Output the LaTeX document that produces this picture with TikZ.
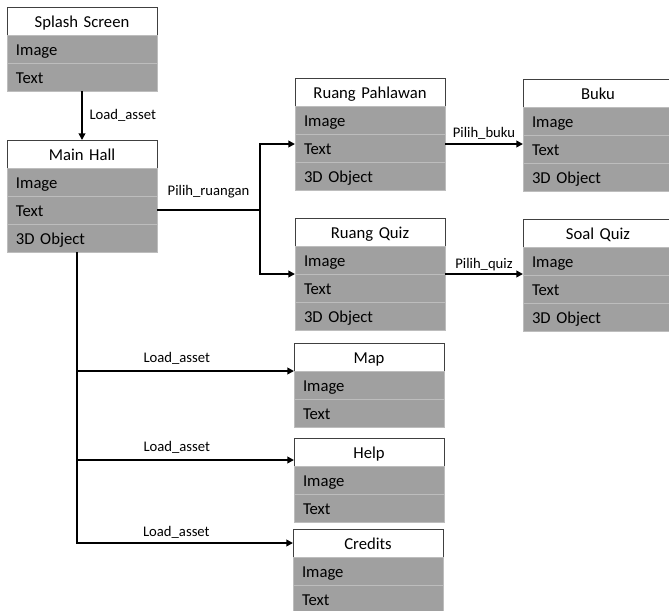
\documentclass[tikz,border=0pt]{standalone}
\usepackage{fontspec}
\setmainfont{Carlito}
\usetikzlibrary{positioning}
\usetikzlibrary{arrows.meta}
\definecolor{rowgray}{HTML}{A0A0A0}
\definecolor{rowline}{HTML}{BDBDBD}
\definecolor{boxline}{HTML}{404040}
\tikzset{>={Triangle[length=5pt,width=5pt]}}
\tikzset{
  head/.style={draw=boxline, fill=white, line width=.6pt, anchor=north west, outer sep=0pt,
    minimum height=21pt, text width=99pt, inner xsep=6.75pt, inner ysep=2pt,
    text height=10.5pt, text depth=1pt,
    align=center, font=\fontsize{12.5}{14}\selectfont},
  row/.style={draw=rowline, fill=rowgray, line width=.6pt, outer sep=0pt,
    minimum height=21pt, text width=99pt, inner xsep=6.75pt, inner ysep=2pt,
    text height=11pt, text depth=1pt,
    align=left, font=\fontsize{12.5}{14}\selectfont},
  flow/.style={line width=1.3pt},
  lbl/.style={font=\fontsize{11}{12}\selectfont, inner sep=2pt}
}

\begin{document}
\begin{tikzpicture}[x=0.75pt, y=-0.75pt]
      \useasboundingbox (0,0) rectangle (669,611);
      % boxes
      \node[head] (splash) at (7,7) {Splash Screen};
      \node[row, below=0pt of splash] (splashA) {Image};
      \node[row, below=0pt of splashA] (splashB) {Text};

      \node[head] (main) at (7,140) {Main Hall};
      \node[row, below=0pt of main] (mainA) {Image};
      \node[row, below=0pt of mainA] (mainB) {Text};
      \node[row, below=0pt of mainB] (mainC) {3D Object};

      \node[head] (pah) at (295,78) {Ruang Pahlawan};
      \node[row, below=0pt of pah] (pahA) {Image};
      \node[row, below=0pt of pahA] (pahB) {Text};
      \node[row, below=0pt of pahB] (pahC) {3D Object};

      \node[head] (buku) at (523,79) {Buku};
      \node[row, below=0pt of buku] (bukuA) {Image};
      \node[row, below=0pt of bukuA] (bukuB) {Text};
      \node[row, below=0pt of bukuB] (bukuC) {3D Object};

      \node[head] (quiz) at (295,218) {Ruang Quiz};
      \node[row, below=0pt of quiz] (quizA) {Image};
      \node[row, below=0pt of quizA] (quizB) {Text};
      \node[row, below=0pt of quizB] (quizC) {3D Object};

      \node[head] (soal) at (523,219) {Soal Quiz};
      \node[row, below=0pt of soal] (soalA) {Image};
      \node[row, below=0pt of soalA] (soalB) {Text};
      \node[row, below=0pt of soalB] (soalC) {3D Object};

      \node[head] (map) at (294,343) {Map};
      \node[row, below=0pt of map] (mapA) {Image};
      \node[row, below=0pt of mapA] (mapB) {Text};

      \node[head] (help) at (294,438) {Help};
      \node[row, below=0pt of help] (helpA) {Image};
      \node[row, below=0pt of helpA] (helpB) {Text};

      \node[head] (credits) at (293,529) {Credits};
      \node[row, below=0pt of credits] (creditsA) {Image};
      \node[row, below=0pt of creditsA] (creditsB) {Text};

      % lines
      \draw[flow, ->] (splashB.south) -- node[lbl, right=3pt] (ldmain) {Load\_asset} (main.north);

      \coordinate (split) at (260,0);
      \draw[flow] (mainB.east) -- node[lbl, above=6pt] (ldruang) {Pilih\_ruangan} (mainB.east -| split);
      \draw[flow, ->] (mainB.east -| split) |- ([yshift=3pt]pahB.west);
      \draw[flow, ->] (mainB.east -| split) |- (quizB.north west);

      \draw[flow, ->] ([yshift=3pt]pahB.east) -- node[lbl, above=1pt] (ldbuku) {Pilih\_buku} ([yshift=3pt]pahB.east -| buku.west);
      \draw[flow, ->] (quizB.north east) -- node[lbl, above=0pt] (ldsoal) {Pilih\_quiz} (quizB.north east -| soal.west);

      \coordinate (trunk) at ([xshift=-3.75pt]mainC.south);
      \coordinate (helpin) at ([yshift=-6pt]help.west);
      \draw[flow, ->] (trunk) |- node[lbl, above=1pt, pos=0.73] (ldcredits) {Load\_asset} (credits.west);
      \draw[flow, ->] (trunk |- map.south west) -- node[lbl, above=2pt, pos=0.46] (ldmap) {Load\_asset} (map.south west);
      \draw[flow, ->] (trunk |- helpin) -- node[lbl, above=2pt, pos=0.46] (ldhelp) {Load\_asset} (helpin);
\end{tikzpicture}
\end{document}
